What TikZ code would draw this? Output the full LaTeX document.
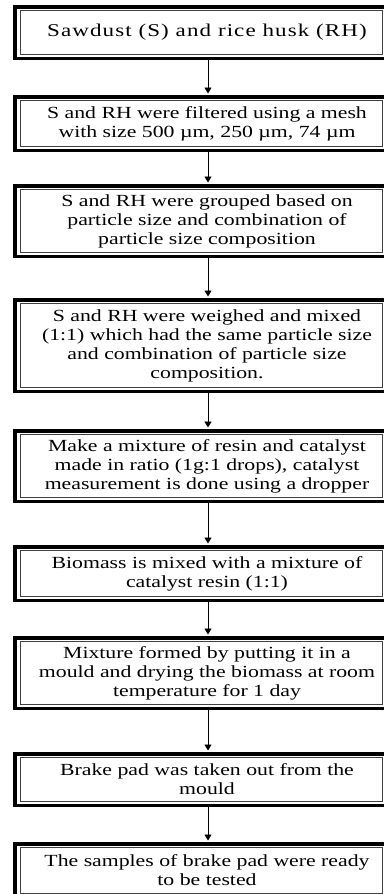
\documentclass[tikz,border=0pt]{standalone}
\usepackage{fontspec}
\setmainfont{Liberation Serif}[FakeStretch=1.28]
\usetikzlibrary{arrows.meta}

\tikzset{
    stepbox/.style={draw, line width=3.5pt, minimum width=384pt, inner sep=0pt,
        align=center, font=\fontsize{17}{19}\selectfont,
        path picture={\draw[line width=0.8pt, black!75]
            ([shift={(5pt,-4pt)}]path picture bounding box.north west) rectangle
            ([shift={(-17pt,4pt)}]path picture bounding box.south east);}},
    flow/.style={-{Triangle[length=6pt,width=7pt]}, line width=0.9pt, shorten >=1.5pt}
}

\begin{document}
\begin{tikzpicture}[x=1pt,y=-1pt]
    \useasboundingbox (0,0) rectangle (383,894);

    \node[stepbox, minimum height=51.5pt, font=\fontsize{18}{19}\selectfont\addfontfeature{LetterSpace=6}] (raw) at (207,32.5) {Sawdust (S) and rice husk (RH)};
    \node[stepbox, minimum height=53.5pt] (sieve) at (207,123.5) {S and RH were filtered using a mesh\\with size 500 µm, 250 µm, 74 µm};
    \node[stepbox, minimum height=70.5pt] (group) at (207,221) {S and RH were grouped based on\\particle size and combination of\\particle size composition};
    \node[stepbox, minimum height=91.5pt] (weigh) at (207,345.5) {S and RH were weighed and mixed\\(1:1) which had the same particle size\\and combination of particle size\\composition.};
    \node[stepbox, minimum height=70.5pt] (resin) at (207,466) {Make a mixture of resin and catalyst\\made in ratio (1g:1 drops), catalyst\\measurement is done using a dropper};
    \node[stepbox, minimum height=53.5pt] (mix) at (207,573.5) {Biomass is mixed with a mixture of\\catalyst resin (1:1)};
    \node[stepbox, minimum height=70.5pt] (mould) at (207,673) {Mixture formed by putting it in a\\mould and drying the biomass at room\\temperature for 1 day};
    \node[stepbox, minimum height=51.5pt] (demould) at (207,779.5) {Brake pad was taken out from the\\mould};
    \node[stepbox, minimum height=53.5pt] (ready) at (207,870.5) {The samples of brake pad were ready\\to be tested};

    \foreach \a/\b in {raw/sieve, sieve/group, group/weigh, weigh/resin,
                       resin/mix, mix/mould, mould/demould, demould/ready}
        \draw[flow] ([xshift=1pt]\a.south) -- ([xshift=1pt]\b.north);

\end{tikzpicture}
\end{document}
